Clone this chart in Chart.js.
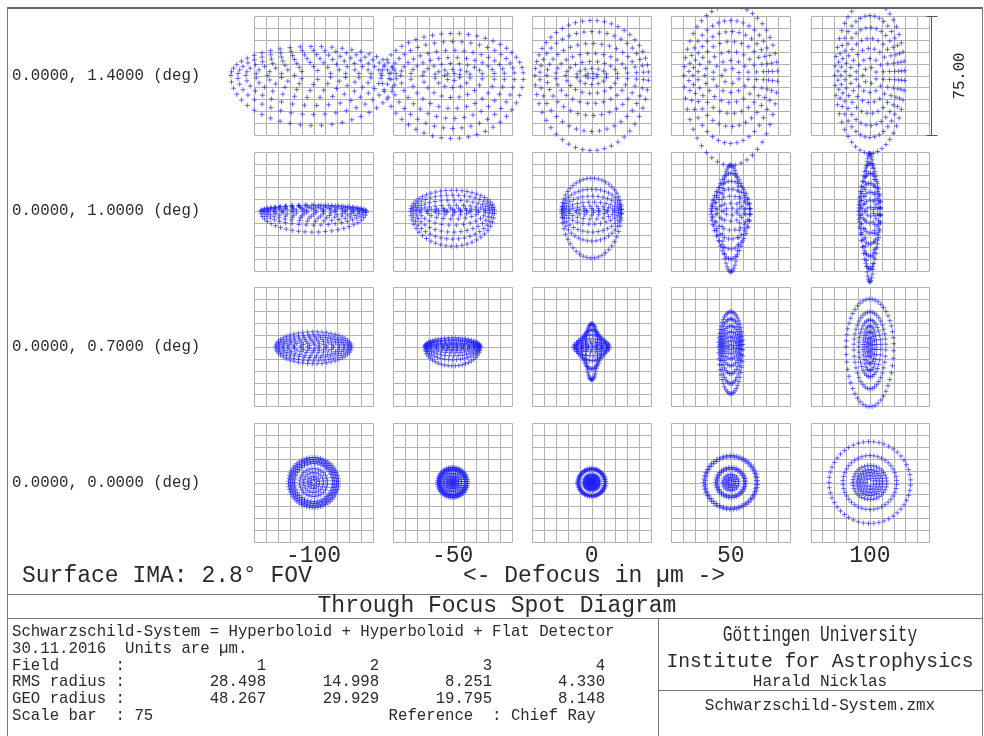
<!DOCTYPE html>
<html>
<head>
<meta charset="utf-8">
<script src="https://cdn.jsdelivr.net/npm/chart.js@4.4.1/dist/chart.umd.min.js"></script>
<style>
  html, body { margin: 0; padding: 0; background: #fff; }
  #wrap { position: relative; width: 984px; height: 736px; overflow: hidden;
          font-family: "Liberation Mono", "DejaVu Sans Mono", monospace; color: #2a2a2a; }
  #spots { position: absolute; left: 0; top: 0; }
  .ln { position: absolute; background: #777; }
  .t { position: absolute; white-space: pre; line-height: 1; }
  .c { text-align: center; }
</style>
</head>
<body>
<div id="wrap">
  <canvas id="spots" width="984" height="736"></canvas>

  <!-- frame and separators -->
  <div class="ln" style="left:7px; top:7px; width:976px; height:2px; background:#666;"></div>
  <div class="ln" style="left:7px; top:7px; width:1px; height:729px;"></div>
  <div class="ln" style="left:982px; top:7px; width:1px; height:729px;"></div>
  <div class="ln" style="left:7px; top:594px; width:976px; height:1px;"></div>
  <div class="ln" style="left:7px; top:618px; width:976px; height:1px;"></div>
  <div class="ln" style="left:658px; top:618px; width:1px; height:118px;"></div>
  <div class="ln" style="left:658px; top:690px; width:325px; height:1px;"></div>

  <div class="t" id="surface" style="left:22px; top:565px; font-size:23px;"></div>
  <div class="t c" id="axisTitle" style="left:394px; width:400px; top:565px; font-size:23px;"></div>
  <div class="t c" id="title" style="left:8px; width:978px; top:595px; font-size:23px;"></div>
  <pre class="t" id="info" style="left:12px; top:624px; margin:0; font-size:15.7px; line-height:16.8px; font-family:inherit;"></pre>
  <div class="t c" id="uni" style="left:658px; width:324px; top:627px; font-size:16.2px; transform:scaleY(1.4); transform-origin:50% 50%;"></div>
  <div class="t c" id="inst" style="left:658px; width:324px; top:653px; font-size:19.7px;"></div>
  <div class="t c" id="author" style="left:658px; width:324px; top:674px; font-size:16px;"></div>
  <div class="t c" id="file" style="left:658px; width:324px; top:698px; font-size:16px;"></div>
</div>

<script>
// columns: defocus in µm, rows: field angles
const defocusUm = [-100, -50, 0, 50, 100];
const fieldLabels = ['0.0000, 1.4000 (deg)', '0.0000, 1.0000 (deg)', '0.0000, 0.7000 (deg)', '0.0000, 0.0000 (deg)'];

// ray rings, in µm: [half width, extent up, extent down], outer ring first
const spots1p4 = [
  [[52.3, 18.3, 31.5], [47.9, 15.8, 24.6], [42.8, 13.2, 18.9], [36.5, 10.7, 13.9], [29.0, 8.2, 9.5], [20.8, 5.7, 5.7], [12.0, 3.2, 2.5]],
  [[44.7, 26.5, 39.7], [39.1, 21.4, 33.4], [32.8, 15.8, 27.1], [26.5, 11.3, 20.8], [18.9, 7.6, 13.9], [11.3, 3.8, 7.6], [5.0, 1.3, 3.2]],
  [[35.9, 34.7, 47.3], [32.8, 27.7, 35.3], [28.4, 20.2, 25.2], [22.7, 13.9, 17.6], [16.4, 8.8, 11.3], [9.5, 4.4, 5.7], [3.8, 1.3, 1.9]],
  [[29.6, 44.1, 56.7], [26.5, 34.7, 42.8], [23.9, 27.7, 32.1], [20.8, 21.4, 23.9], [16.4, 15.1, 17.0], [11.3, 9.5, 10.7], [5.7, 4.4, 5.0]],
  [[22.1, 47.3, 49.1], [20.2, 37.8, 39.1], [18.3, 30.2, 31.5], [15.8, 23.3, 23.9], [12.6, 17.0, 17.0], [8.8, 10.7, 10.7], [4.4, 5.0, 5.0]]
];
const spots1p0 = [
  [[33.4, 3.8, 13.2], [31.5, 3.8, 8.8], [29.0, 3.2, 6.3], [25.2, 2.5, 4.4], [20.2, 1.9, 3.2], [13.9, 1.3, 1.9], [6.9, 0.6, 0.9]],
  [[26.5, 13.2, 22.1], [25.2, 10.1, 17.6], [23.3, 6.9, 13.2], [20.8, 3.8, 8.8], [16.4, 1.9, 5.0], [11.3, 0.9, 2.5], [5.7, 0.3, 0.9]],
  [[18.9, 20.8, 29.6], [18.9, 13.9, 18.9], [18.3, 9.5, 13.2], [17.0, 5.7, 8.2], [14.5, 3.2, 5.0], [10.1, 1.6, 2.5], [5.0, 0.6, 0.9]],
  [[5.7, 29.0, 38.4], [9.5, 23.9, 30.2], [12.0, 18.9, 23.9], [12.6, 13.9, 17.6], [12.0, 9.5, 12.0], [8.8, 5.0, 6.3], [4.4, 1.9, 2.5]],
  [[3.2, 36.5, 44.7], [5.7, 30.2, 36.5], [6.9, 23.9, 28.4], [6.9, 17.6, 20.8], [6.3, 12.0, 13.9], [5.0, 6.9, 7.6], [2.5, 2.5, 3.2]]
];
const spots0p7 = [
  [[23.9, 9.5, 10.7], [22.1, 7.6, 8.8], [19.5, 6.3, 6.9], [16.4, 5.0, 5.7], [12.6, 3.8, 3.8], [8.2, 2.5, 2.5], [3.8, 1.3, 1.3]],
  [[17.6, 5.7, 12.0], [17.0, 4.4, 8.2], [15.8, 3.8, 5.7], [13.9, 2.5, 3.8], [10.7, 1.9, 2.5], [6.9, 1.3, 1.6], [3.2, 0.6, 0.6]],
  [[3.8, 14.5, 20.8], [6.3, 10.7, 13.9], [9.5, 7.6, 8.8], [11.3, 5.0, 5.7], [10.1, 3.2, 3.2], [6.9, 1.9, 1.9], [3.2, 0.6, 0.6]],
  [[7.6, 22.1, 29.6], [6.9, 17.6, 23.3], [6.3, 13.2, 17.0], [5.7, 9.5, 12.0], [5.0, 6.3, 7.6], [3.8, 3.8, 4.4], [1.9, 1.3, 1.9]],
  [[15.1, 30.2, 37.8], [10.1, 22.1, 26.5], [6.9, 17.0, 18.9], [4.4, 13.2, 15.1], [3.2, 9.5, 10.7], [1.9, 5.7, 6.3], [0.9, 2.5, 3.2]]
];
const spots0p0 = [
  [[15.8, 15.8, 15.8], [14.5, 14.5, 14.5], [13.2, 13.2, 13.2], [12.0, 12.0, 12.0], [8.8, 8.8, 8.8], [6.3, 6.3, 6.3], [3.8, 3.8, 3.8], [1.9, 1.9, 1.9]],
  [[9.5, 9.5, 9.5], [8.5, 8.5, 8.5], [7.6, 7.6, 7.6], [5.7, 5.7, 5.7], [3.8, 3.8, 3.8], [2.2, 2.2, 2.2], [0.9, 0.9, 0.9]],
  [[8.8, 8.8, 8.8], [8.2, 8.2, 8.2], [5.0, 5.0, 5.0], [3.8, 3.8, 3.8], [2.5, 2.5, 2.5], [1.6, 1.6, 1.6], [0.6, 0.6, 0.6]],
  [[17.0, 17.0, 17.0], [16.1, 16.1, 16.1], [9.5, 9.5, 9.5], [8.5, 8.5, 8.5], [5.0, 5.0, 5.0], [3.2, 3.2, 3.2], [1.6, 1.6, 1.6]],
  [[25.8, 25.8, 25.8], [17.0, 17.0, 17.0], [10.7, 10.7, 10.7], [8.2, 8.2, 8.2], [6.3, 6.3, 6.3], [4.4, 4.4, 4.4], [2.5, 2.5, 2.5]]
];
const fieldSpots = [spots1p4, spots1p0, spots0p7, spots0p0];

const fieldNumbers = [1, 2, 3, 4];
const rmsRadius = [28.498, 14.998, 8.251, 4.330];
const geoRadius = [48.267, 29.929, 19.795, 8.148];
const scaleBarUm = 75;

// layout (pixels)
const PXU = 119 / 75;           // pixels per µm inside a box
const col0X = 314.5, row0Y = 75.5;
const pitchX = 139.5 / PXU, pitchY = 135.67 / PXU;
const area = { left: 8, top: 8, right: 982, bottom: 593 };

function cellCenter(r, c) { return { x: c * pitchX, y: -r * pitchY }; }

function ringPoints(r, c, rings) {
  const ctr = cellCenter(r, c);
  const pts = [];
  rings.forEach((ring, i) => {
    const [hw, up, down] = ring;
    const n = 7 * (rings.length - i);
    for (let j = 0; j < n; j++) {
      const t = 2 * Math.PI * (j + 0.5) / n;
      const s = Math.sin(t);
      pts.push({ x: ctr.x + hw * Math.cos(t), y: ctr.y + (s > 0 ? up : down) * s });
    }
  });
  return pts;
}

const datasets = fieldSpots.map((row, r) => ({
  label: fieldLabels[r],
  data: row.flatMap((rings, c) => ringPoints(r, c, rings)),
  pointStyle: 'cross',
  radius: 2.5,
  borderWidth: 1,
  borderColor: 'rgba(30, 30, 255, 0.65)',
  backgroundColor: 'rgba(30, 30, 255, 0.65)'
}));

const monoFont = '"Liberation Mono", "DejaVu Sans Mono", monospace';

const spotFrame = {
  id: 'spotFrame',
  beforeDatasetsDraw(chart) {
    const { ctx, scales: { x, y } } = chart;
    const px = v => Math.round(x.getPixelForValue(v)) + 0.5;
    const py = v => Math.round(y.getPixelForValue(v)) + 0.5;
    ctx.save();
    ctx.strokeStyle = '#b2b2b2';
    ctx.lineWidth = 1;
    for (let r = 0; r < fieldLabels.length; r++) {
      for (let c = 0; c < defocusUm.length; c++) {
        const ctr = cellCenter(r, c);
        const h = scaleBarUm / 2, step = scaleBarUm / 10;
        ctx.beginPath();
        for (let k = 0; k <= 10; k++) {
          const gx = px(ctr.x - h + k * step), gy = py(ctr.y - h + k * step);
          ctx.moveTo(gx, py(ctr.y + h)); ctx.lineTo(gx, py(ctr.y - h));
          ctx.moveTo(px(ctr.x - h), gy); ctx.lineTo(px(ctr.x + h), gy);
        }
        ctx.stroke();
      }
    }
    ctx.restore();
  },
  afterDraw(chart) {
    const { ctx, scales: { x, y } } = chart;
    ctx.save();
    ctx.fillStyle = '#2a2a2a';
    ctx.textBaseline = 'middle';

    // field labels
    ctx.font = '15.7px ' + monoFont;
    ctx.textAlign = 'left';
    fieldLabels.forEach((lab, r) => ctx.fillText(lab, 12, y.getPixelForValue(cellCenter(r, 0).y)));

    // defocus labels under the last row
    ctx.font = '23px ' + monoFont;
    ctx.textAlign = 'center';
    const lastRow = fieldLabels.length - 1;
    const ly = y.getPixelForValue(cellCenter(lastRow, 0).y - scaleBarUm / 2) + 14;
    defocusUm.forEach((d, c) => ctx.fillText(String(d), x.getPixelForValue(cellCenter(0, c).x), ly));

    // scale bar beside the top right box
    const last = cellCenter(0, defocusUm.length - 1);
    const bx = Math.round(x.getPixelForValue(last.x + scaleBarUm / 2)) + 2.5;
    const top = Math.round(y.getPixelForValue(last.y + scaleBarUm / 2)) + 0.5;
    const bot = Math.round(y.getPixelForValue(last.y - scaleBarUm / 2)) + 0.5;
    ctx.strokeStyle = '#555';
    ctx.lineWidth = 1;
    ctx.beginPath();
    ctx.moveTo(bx, top); ctx.lineTo(bx, bot);
    ctx.moveTo(bx - 5, top); ctx.lineTo(bx + 6, top);
    ctx.moveTo(bx - 5, bot); ctx.lineTo(bx + 6, bot);
    ctx.stroke();
    ctx.translate(bx + 28, (top + bot) / 2);
    ctx.rotate(-Math.PI / 2);
    ctx.font = '15.7px ' + monoFont;
    ctx.fillText(scaleBarUm.toFixed(2), 0, 0);
    ctx.restore();
  }
};

new Chart(document.getElementById('spots'), {
  type: 'scatter',
  data: { datasets: datasets },
  options: {
    responsive: false,
    animation: false,
    layout: { padding: { left: area.left, top: area.top, right: 984 - area.right, bottom: 736 - area.bottom } },
    scales: {
      x: { type: 'linear', display: false, min: (area.left - col0X) / PXU, max: (area.right - col0X) / PXU },
      y: { type: 'linear', display: false, min: (row0Y - area.bottom) / PXU, max: (row0Y - area.top) / PXU }
    },
    plugins: { legend: { display: false }, tooltip: { enabled: false } }
  },
  plugins: [spotFrame]
});

// text blocks
document.getElementById('surface').textContent = 'Surface IMA: 2.8\u00b0 FOV';
document.getElementById('axisTitle').textContent = '<- Defocus in \u00b5m ->';
document.getElementById('title').textContent = 'Through Focus Spot Diagram';

const row = (label, vals) => label.padEnd(12) + vals.map((v, i) => String(v).padStart(i === 0 ? 15 : 12)).join('');
document.getElementById('info').textContent = [
  'Schwarzschild-System = Hyperboloid + Hyperboloid + Flat Detector',
  '30.11.2016  Units are \u00b5m.',
  row('Field      :', fieldNumbers),
  row('RMS radius :', rmsRadius.map(v => v.toFixed(3))),
  row('GEO radius :', geoRadius.map(v => v.toFixed(3))),
  ('Scale bar  : ' + scaleBarUm).padEnd(40) + 'Reference  : Chief Ray'
].join('\n');
document.getElementById('uni').textContent = 'G\u00f6ttingen University';
document.getElementById('inst').textContent = 'Institute for Astrophysics';
document.getElementById('author').textContent = 'Harald Nicklas';
document.getElementById('file').textContent = 'Schwarzschild-System.zmx';
</script>
</body>
</html>
